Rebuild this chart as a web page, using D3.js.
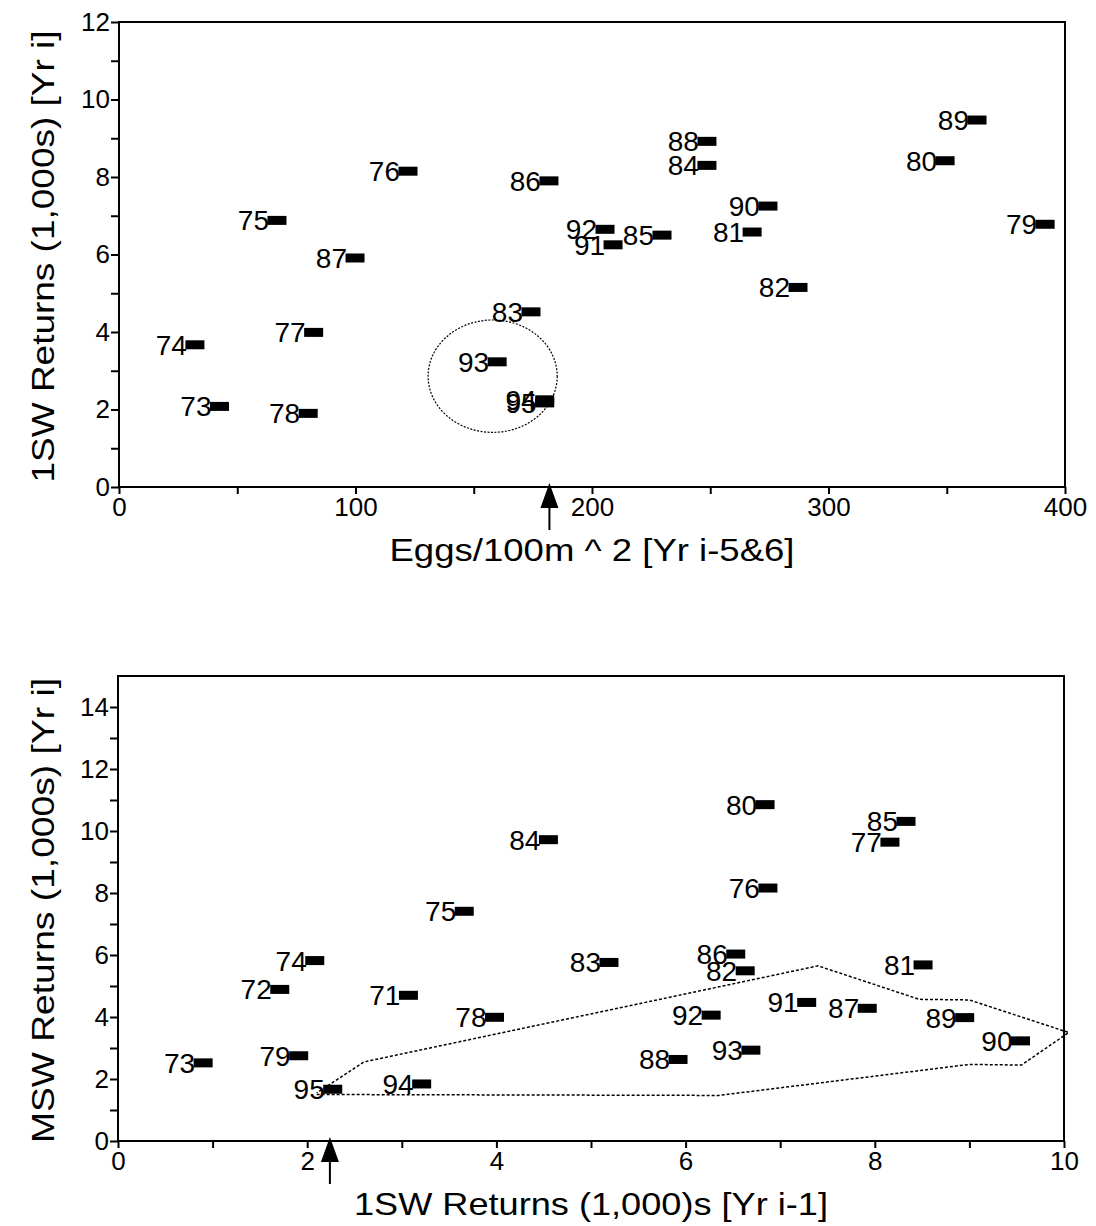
<!DOCTYPE html>
<html>
<head>
<meta charset="utf-8">
<title>Returns vs eggs</title>
<script src="https://cdn.jsdelivr.net/npm/d3@7"></script>
<style>
  body { margin: 0; background: #fff; }
  svg { display: block; }
  text { font-family: "Liberation Sans", Arial, Helvetica, sans-serif; fill: #000; }
  .tick line { stroke: #000; stroke-width: 2; }
  .tick text { font-size: 26px; }
  .ptLabel { font-size: 28px; }
  .axTitle { font-size: 32px; }
</style>
</head>
<body>
<div id="viz"></div>
<script>
// top panel: 1SW returns vs eggs
var topYears   = ['73','74','75','76','77','78','79','80','81','82','83','84','85','86','87','88','89','90','91','92','93','94','95'];
var topEggs    = [42.5, 32.1, 66.8, 122.2, 82.3, 80.0, 391.6, 349.3, 267.7, 287.1, 174.2, 248.6, 229.6, 181.8, 99.8, 248.6, 362.8, 274.4, 208.9, 205.5, 159.9, 180.0, 180.0];
var top1SW     = [2.08, 3.67, 6.88, 8.15, 3.99, 1.90, 6.78, 8.42, 6.58, 5.15, 4.52, 8.30, 6.50, 7.90, 5.91, 8.92, 9.47, 7.25, 6.25, 6.65, 3.23, 2.25, 2.17];
var topXTicks  = [0, 100, 200, 300, 400];
var topYTicks  = [0, 2, 4, 6, 8, 10, 12];

// bottom panel: MSW returns vs previous year 1SW returns
var botYears   = ['71','72','73','74','75','76','77','78','79','80','81','82','83','84','85','86','87','88','89','90','91','92','93','94','95'];
var bot1SWprev = [3.07, 1.71, 0.90, 2.08, 3.66, 6.87, 8.16, 3.98, 1.91, 6.84, 8.51, 6.63, 5.19, 4.55, 8.33, 6.53, 7.92, 5.92, 8.95, 9.54, 7.28, 6.27, 6.69, 3.21, 2.27];
var botMSW     = [4.70, 4.89, 2.52, 5.82, 7.41, 8.16, 9.64, 3.99, 2.75, 10.85, 5.68, 5.49, 5.76, 9.72, 10.31, 6.03, 4.28, 2.63, 3.98, 3.23, 4.47, 4.06, 2.93, 1.84, 1.67];
var botXTicks  = [0, 2, 4, 6, 8, 10];
var botYTicks  = [0, 2, 4, 6, 8, 10, 12, 14];

// annotations
var hullX = [2.1, 6.35, 9.0, 9.55, 10.05, 9.0, 8.47, 7.4, 2.6, 2.1];
var hullY = [1.5, 1.47, 2.47, 2.45, 3.5, 4.55, 4.57, 5.65, 2.55, 1.55];
var ringCx = 158, ringCy = 2.86, ringRx = 27.3, ringRy = 1.45;
var topArrowX = 182, botArrowX = 2.24;

var svg = d3.select('#viz').append('svg')
    .attr('width', 1096)
    .attr('height', 1226);

function panel(o) {
  var x = d3.scaleLinear().domain(o.xDomain).range([o.left, o.right]);
  var y = d3.scaleLinear().domain(o.yDomain).range([o.bottom, o.top]);
  var g = svg.append('g');

  // minor ticks
  g.append('g')
      .attr('transform', 'translate(0,' + o.bottom + ')')
      .call(d3.axisBottom(x).tickValues(o.xMinor).tickSize(7).tickFormat(''))
      .select('.domain').remove();
  g.append('g')
      .attr('transform', 'translate(' + o.left + ',0)')
      .call(d3.axisLeft(y).tickValues(o.yMinor).tickSize(8).tickFormat(''))
      .select('.domain').remove();

  // major ticks
  g.append('g')
      .attr('transform', 'translate(0,' + o.bottom + ')')
      .call(d3.axisBottom(x).tickValues(o.xTicks).tickSize(7).tickPadding(4))
      .call(function(a){ a.select('.domain').remove(); });
  g.append('g')
      .attr('transform', 'translate(' + o.left + ',0)')
      .call(d3.axisLeft(y).tickValues(o.yTicks).tickSize(8).tickPadding(1))
      .call(function(a){ a.select('.domain').remove(); });

  // frame
  g.append('rect')
      .attr('x', o.left).attr('y', o.top)
      .attr('width', o.right - o.left).attr('height', o.bottom - o.top)
      .attr('fill', 'none').attr('stroke', '#000').attr('stroke-width', 2);

  // points
  var pts = o.years.map(function(d, i){ return {key: d, x: o.xs[i], y: o.ys[i]}; });
  var pg = g.selectAll('.pt').data(pts).enter().append('g').attr('class', 'pt');
  pg.append('rect')
      .attr('x', function(d){ return x(d.x) - 9.5; })
      .attr('y', function(d){ return y(d.y) - 4.5; })
      .attr('width', 19).attr('height', 9)
      .attr('fill', '#000');
  pg.append('text')
      .attr('class', 'ptLabel')
      .attr('x', function(d){ return x(d.x) - 8; })
      .attr('y', function(d){ return y(d.y) + 10; })
      .attr('text-anchor', 'end')
      .text(function(d){ return d.key; });

  // arrow under the axis
  var ax = x(o.arrowX), b = o.bottom;
  g.append('path')
      .attr('d', 'M' + ax + ',' + (b - 4) + 'L' + (ax - 9) + ',' + (b + 21) + 'L' + (ax + 9) + ',' + (b + 21) + 'Z')
      .attr('fill', '#000');
  g.append('line')
      .attr('x1', ax).attr('x2', ax)
      .attr('y1', b + 19).attr('y2', b + 43)
      .attr('stroke', '#000').attr('stroke-width', 2);

  // titles (stretched to the wide face of the original)
  g.append('text')
      .attr('class', 'axTitle')
      .attr('x', (o.left + o.right) / 2)
      .attr('y', o.bottom + 74)
      .attr('text-anchor', 'middle')
      .attr('textLength', o.xTitleLen)
      .attr('lengthAdjust', 'spacingAndGlyphs')
      .text(o.xTitle);
  g.append('text')
      .attr('class', 'axTitle')
      .attr('transform', 'translate(54,' + ((o.top + o.bottom) / 2 + 2) + ') rotate(-90)')
      .attr('text-anchor', 'middle')
      .attr('textLength', o.yTitleLen)
      .attr('lengthAdjust', 'spacingAndGlyphs')
      .text(o.yTitle);

  return {x: x, y: y, g: g};
}

var p1 = panel({
  left: 119, right: 1065, top: 22, bottom: 487,
  xDomain: [0, 400], yDomain: [0, 12],
  xTicks: topXTicks, yTicks: topYTicks,
  xMinor: [50, 150, 250, 350], yMinor: [1, 3, 5, 7, 9, 11],
  years: topYears, xs: topEggs, ys: top1SW,
  arrowX: topArrowX,
  xTitle: 'Eggs/100m ^ 2 [Yr i-5&6]', xTitleLen: 405,
  yTitle: '1SW Returns (1,000s) [Yr i]', yTitleLen: 452
});

p1.g.append('ellipse')
    .attr('cx', p1.x(ringCx)).attr('cy', p1.y(ringCy))
    .attr('rx', p1.x(ringRx) - p1.x(0)).attr('ry', p1.y(0) - p1.y(ringRy))
    .attr('fill', 'none').attr('stroke', '#000')
    .attr('stroke-width', 1.2).attr('stroke-dasharray', '2,1.5');

var p2 = panel({
  left: 118, right: 1064, top: 676, bottom: 1141,
  xDomain: [0, 10], yDomain: [0, 15],
  xTicks: botXTicks, yTicks: botYTicks,
  xMinor: [1, 3, 5, 7, 9], yMinor: [1, 3, 5, 7, 9, 11, 13],
  years: botYears, xs: bot1SWprev, ys: botMSW,
  arrowX: botArrowX,
  xTitle: '1SW Returns (1,000)s [Yr i-1]', xTitleLen: 474,
  yTitle: 'MSW Returns (1,000s) [Yr i]', yTitleLen: 465
});

var hull = hullX.map(function(d, i){ return [d, hullY[i]]; });
p2.g.append('path')
    .attr('d', d3.line().x(function(d){ return p2.x(d[0]); }).y(function(d){ return p2.y(d[1]); })(hull))
    .attr('fill', 'none').attr('stroke', '#000')
    .attr('stroke-width', 1.5).attr('stroke-dasharray', '3,2');
</script>
</body>
</html>
